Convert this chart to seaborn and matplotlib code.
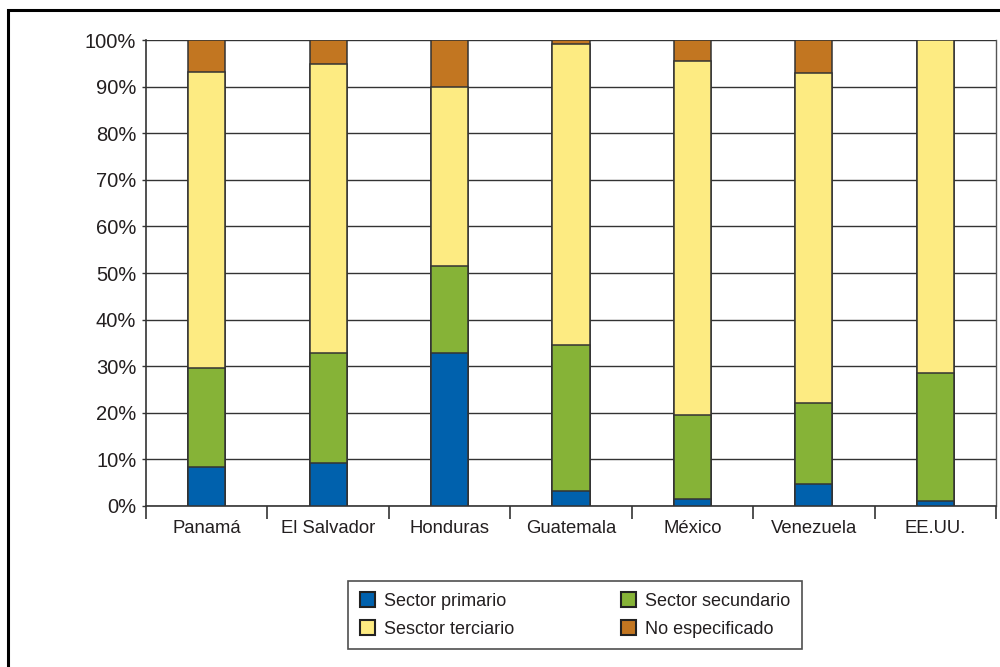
import numpy as np
import pandas as pd
import matplotlib
matplotlib.use("Agg")
import matplotlib.pyplot as plt
from matplotlib.patches import Patch, Rectangle
import seaborn as sns

# Employment share by economic sector (%)
countries = ["Panamá", "El Salvador", "Honduras", "Guatemala", "México", "Venezuela", "EE.UU."]
primario = [8.3, 9.2, 32.8, 3.2, 1.4, 4.7, 1.1]
secundario = [21.3, 23.6, 18.8, 31.3, 18.2, 17.5, 27.4]
terciario = [63.6, 62.1, 38.4, 64.6, 75.9, 70.7, 71.5]
no_especificado = [6.8, 5.1, 10.0, 0.9, 4.5, 7.1, 0.0]

series_names = ["Sector primario", "Sector secundario", "Sesctor terciario", "No especificado"]
series_colors = ["#0061AD", "#86B337", "#FDEB82", "#C27621"]
y_ticks = [0, 10, 20, 30, 40, 50, 60, 70, 80, 90, 100]

sns.set_theme(style="white")
plt.rcParams["font.family"] = ["Liberation Sans", "DejaVu Sans"]
text_color = "#231F20"
line_color = "#333333"

fig = plt.figure(figsize=(10, 6.67), dpi=100)
ax = fig.add_axes([0.146, 0.2414, 0.850, 0.6986])

layers = np.array([primario, secundario, terciario, no_especificado])
tops = np.cumsum(layers, axis=0)

# stacked bars: draw cumulative tops from the highest layer down
for i in range(len(series_names) - 1, -1, -1):
    df = pd.DataFrame({"pais": countries, "valor": tops[i]})
    sns.barplot(data=df, x="pais", y="valor", order=countries, color=series_colors[i],
                saturation=1, width=0.305, edgecolor=line_color, linewidth=1.1,
                ax=ax, zorder=3)

ax.set_xlim(-0.5, len(countries) - 0.5)
ax.set_ylim(0, 100)
ax.set_axisbelow(True)
ax.set_yticks(y_ticks)
ax.set_yticklabels([f"{t}%" for t in y_ticks], fontsize=14.5, color=text_color)
ax.yaxis.grid(True, color=line_color, linewidth=1.0)
ax.xaxis.grid(False)
ax.set_xlabel("")
ax.set_ylabel("")

# category labels at bar centres, tick marks between categories
ax.set_xticks(range(len(countries)))
ax.set_xticklabels(countries, fontsize=13.3, color=text_color)
ax.tick_params(axis="x", which="major", length=0, pad=10)
ax.set_xticks(np.arange(-0.5, len(countries) - 0.4, 1.0), minor=True)
ax.tick_params(axis="x", which="minor", bottom=True, length=9, width=1.2,
               color=line_color, direction="out")
ax.tick_params(axis="y", length=3, width=1.0, color=line_color, direction="out", pad=4, left=True)

for side in ["left", "bottom"]:
    ax.spines[side].set_color(line_color)
    ax.spines[side].set_linewidth(1.2)
ax.spines["right"].set_color("#555555")
ax.spines["right"].set_linewidth(1.0)
ax.spines["top"].set_visible(False)

# legend
handles = [Patch(facecolor=series_colors[k], edgecolor="#222222", linewidth=1.5, label=series_names[k])
           for k in (0, 2, 1, 3)]
leg = fig.legend(handles=handles, ncol=2, loc="center", bbox_to_anchor=(0.575, 0.078),
                 fontsize=13, frameon=True, fancybox=False, edgecolor="#222222",
                 handlelength=0.85, handleheight=0.85, handletextpad=0.5,
                 columnspacing=5.9, labelspacing=0.6, borderpad=0.62)
leg.get_frame().set_linewidth(1.2)
for t in leg.get_texts():
    t.set_color(text_color)

# outer frame
fig.patches.append(Rectangle((0.008, -0.5), 2.0, 1.485, transform=fig.transFigure,
                             fill=False, edgecolor="black", linewidth=2.2, zorder=10))

fig.savefig("out.png", dpi=100)
